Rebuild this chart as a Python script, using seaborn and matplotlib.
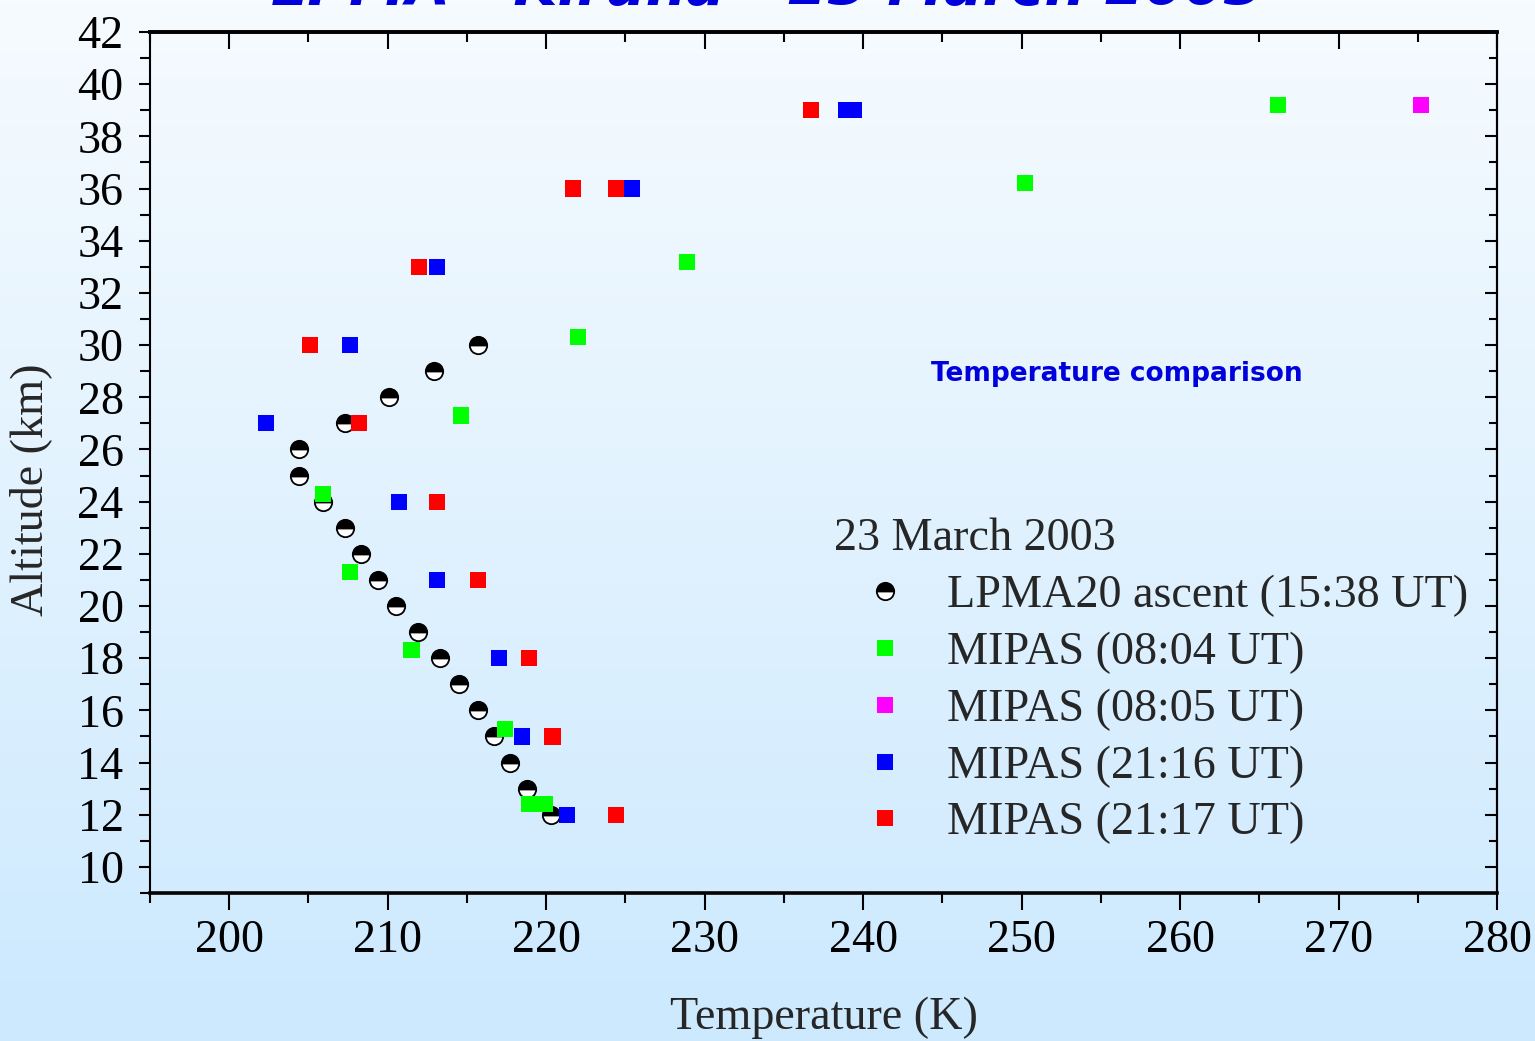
import numpy as np
import pandas as pd
import matplotlib
matplotlib.use("Agg")
import matplotlib.pyplot as plt
from matplotlib.lines import Line2D
from matplotlib.ticker import MultipleLocator, NullFormatter
import seaborn as sns

# LPMA20 balloon ascent (15:38 UT)
lpma_alt = [30, 29, 28, 27, 26, 25, 24, 23, 22, 21, 20, 19, 18, 17, 16, 15, 14, 13, 12]
lpma_temp = [215.7, 212.9, 210.1, 207.3, 204.4, 204.4, 205.9, 207.3, 208.3, 209.4,
             210.5, 211.9, 213.3, 214.5, 215.7, 216.7, 217.7, 218.8, 220.3]

# MIPAS retrievals
mipas_0804_alt = [39.2, 36.2, 33.2, 30.3, 27.3, 24.3, 21.3, 18.3, 15.3, 12.4, 12.4]
mipas_0804_temp = [266.2, 250.2, 228.9, 222.0, 214.6, 205.9, 207.6, 211.5, 217.4, 218.9, 219.9]

mipas_0805_alt = [39.2]
mipas_0805_temp = [275.2]

mipas_2116_alt = [39.0, 39.0, 36.0, 33.0, 30.0, 27.0, 24.0, 21.0, 18.0, 15.0, 12.0]
mipas_2116_temp = [238.9, 239.4, 225.4, 213.1, 207.6, 202.3, 210.7, 213.1, 217.0, 218.5, 221.3]

mipas_2117_alt = [39.0, 36.0, 36.0, 33.0, 30.0, 27.0, 24.0, 21.0, 18.0, 15.0, 12.0]
mipas_2117_temp = [236.7, 221.7, 224.4, 212.0, 205.1, 208.2, 213.1, 215.7, 218.9, 220.4, 224.4]

series_labels = ["MIPAS (08:04 UT)", "MIPAS (08:05 UT)", "MIPAS (21:16 UT)", "MIPAS (21:17 UT)"]
series_colors = ["#00ff00", "#ff00ff", "#0000ff", "#ff0000"]
lpma_label = "LPMA20 ascent (15:38 UT)"

mipas = pd.concat([
    pd.DataFrame({"temp": t, "alt": a, "run": lab})
    for t, a, lab in zip(
        [mipas_0804_temp, mipas_0805_temp, mipas_2116_temp, mipas_2117_temp],
        [mipas_0804_alt, mipas_0805_alt, mipas_2116_alt, mipas_2117_alt],
        series_labels)
], ignore_index=True)
lpma = pd.DataFrame({"temp": lpma_temp, "alt": lpma_alt})

sns.set_theme(style="white")
plt.rcParams["font.family"] = ["Liberation Serif", "DejaVu Serif"]

W, H = 15.35, 10.41
fig = plt.figure(figsize=(W, H), dpi=100)

# soft vertical gradient behind everything
bg = fig.add_axes([0, 0, 1, 1], zorder=-10)
grad = np.linspace(0, 1, 256)[:, None]
top_c = np.array([246, 251, 255]) / 255
bot_c = np.array([204, 233, 254]) / 255
img = top_c[None, None, :] * (1 - grad[..., None]) + bot_c[None, None, :] * grad[..., None]
bg.imshow(img, aspect="auto", extent=[0, 1, 0, 1])
bg.axis("off")

ax = fig.add_axes([150 / 1535, 1 - 893 / 1041, (1497 - 150) / 1535, (893 - 32) / 1041])
ax.set_facecolor("none")

sns.scatterplot(data=mipas, x="temp", y="alt", hue="run", hue_order=series_labels,
                palette=series_colors, marker="s", s=135, linewidth=0,
                legend=False, ax=ax, zorder=3)

sns.lineplot(data=lpma, x="temp", y="alt", sort=False, estimator=None, ax=ax,
             color="black", linestyle="", marker="o", fillstyle="top",
             markersize=12.5, markerfacecolor="black", markerfacecoloralt="white",
             markeredgecolor="black", markeredgewidth=1.3, zorder=2)

ax.set_xlim(195, 280)
ax.set_ylim(9, 42)
LABEL_FS = 33.2

def set_locators(axis, major, minor):
    axis.set_major_locator(MultipleLocator(major))
    axis.set_minor_locator(MultipleLocator(minor))

set_locators(ax.xaxis, 10, 5)
set_locators(ax.yaxis, 2, 1)

# bottom/left: outward ticks with labels
ax.tick_params(axis="both", which="both", labelsize=LABEL_FS, colors="black",
               width=1.5, direction="out", bottom=True, left=True,
               top=False, right=False)
ax.tick_params(axis="x", which="major", length=12, pad=7)
ax.tick_params(axis="x", which="minor", length=7)
ax.tick_params(axis="y", which="major", length=8, pad=11)
ax.tick_params(axis="y", which="minor", length=7)

# top/right: inward ticks, no labels
sx = ax.secondary_xaxis("top")
set_locators(sx.xaxis, 10, 5)
sx.xaxis.set_major_formatter(NullFormatter())
sx.tick_params(axis="x", which="both", direction="in", width=1.5, colors="black",
               top=True)
sx.tick_params(axis="x", which="major", length=12)
sx.tick_params(axis="x", which="minor", length=7)
sx.spines["top"].set_linewidth(2.6)
sx.spines["top"].set_color("black")

sy = ax.secondary_yaxis("right")
set_locators(sy.yaxis, 2, 1)
sy.yaxis.set_major_formatter(NullFormatter())
sy.tick_params(axis="y", which="both", direction="in", width=1.5, colors="black",
               right=True)
sy.tick_params(axis="y", which="major", length=9)
sy.tick_params(axis="y", which="minor", length=6)
sy.spines["right"].set_linewidth(1.5)
sy.spines["right"].set_color("black")

ax.spines["top"].set_linewidth(2.6)
ax.spines["bottom"].set_linewidth(2.6)
ax.spines["left"].set_linewidth(1.5)
ax.spines["right"].set_linewidth(1.5)
for s in ax.spines.values():
    s.set_color("black")

ax.set_xlabel("")
ax.set_ylabel("")
fig.text(824 / 1535, 1 - 1018 / 1041, "Temperature (K)", fontsize=LABEL_FS,
         ha="center", va="center")
fig.text(31 / 1535, 1 - 490 / 1041, "Altitude (km)", fontsize=LABEL_FS,
         ha="center", va="center", rotation=90)

fig.text(0.5, 1 - 5 / 1041, "LPMA - Kiruna - 23 March 2003", fontsize=41,
         ha="center", va="baseline", color="#0000dd", fontweight="bold",
         fontstyle="italic", family=["DejaVu Sans"])

fig.text(1117 / 1535, 1 - 374 / 1041, "Temperature comparison",
         fontsize=19, color="#0000dd", fontweight="bold",
         family=["DejaVu Sans"], ha="center", va="center")

handles = [Line2D([], [], linestyle="", marker="o", fillstyle="top", markersize=12.5,
                  markerfacecolor="black", markerfacecoloralt="white",
                  markeredgecolor="black", markeredgewidth=1.3)]
handles += [Line2D([], [], linestyle="", marker="s", markersize=11.5, color=c,
                   markeredgewidth=0) for c in series_colors]
leg = ax.legend(handles, [lpma_label] + series_labels, title="23 March 2003",
                loc="upper left", bbox_to_anchor=(834 / 1535, 1 - 518 / 1041),
                bbox_transform=fig.transFigure, frameon=False, fontsize=LABEL_FS,
                title_fontsize=LABEL_FS, handlelength=2.2, handletextpad=0.26,
                labelspacing=0.31, borderpad=0, borderaxespad=0, alignment="left")

fig.savefig("out.png", dpi=100)
